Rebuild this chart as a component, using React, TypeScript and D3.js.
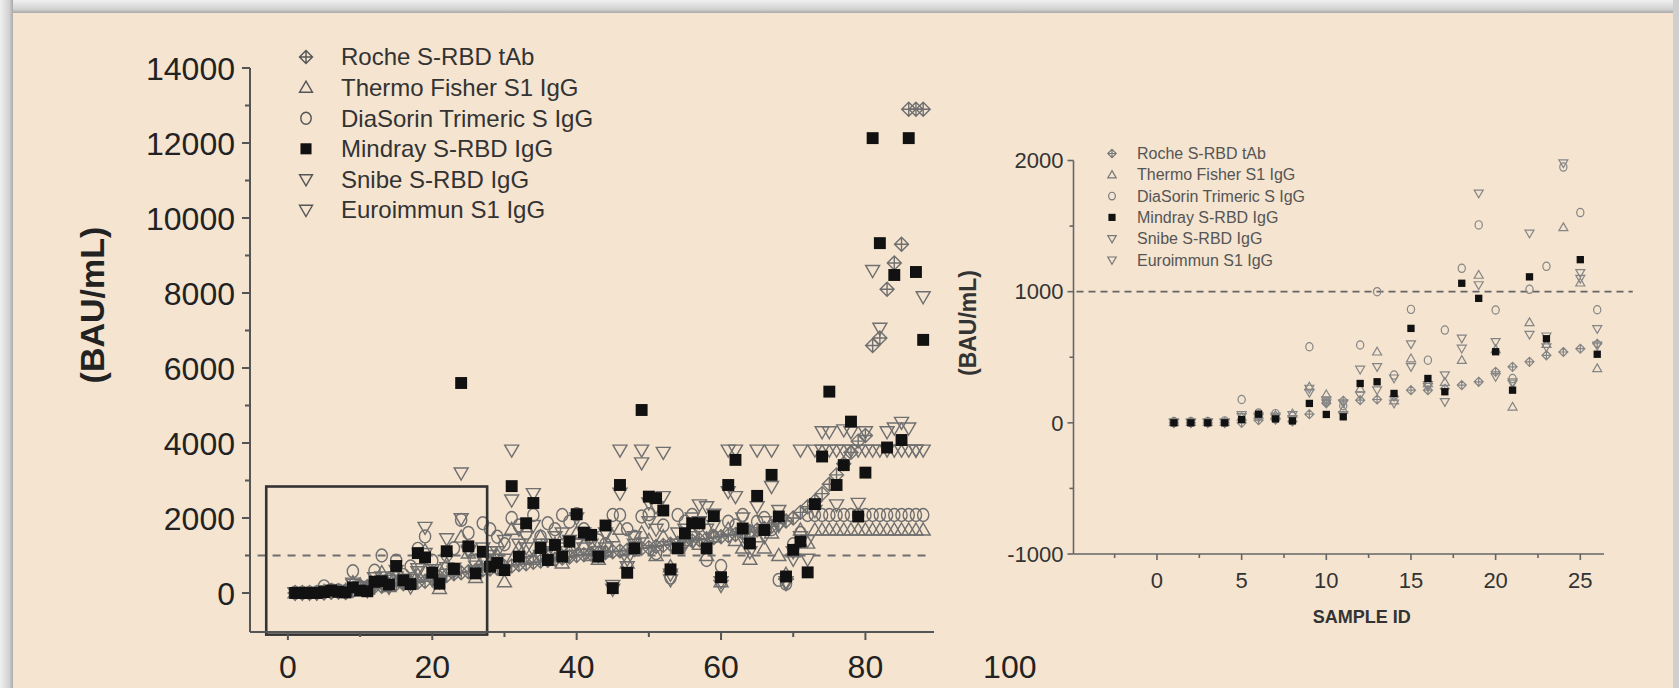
import React from 'react'
import * as d3 from 'd3'

// sample ids 1..88 (left panel), 1..26 (right panel zoom)
const samples = d3.range(1, 89)
const zoomSamples = d3.range(1, 27)

const seriesNames = [
  'Roche S-RBD tAb',
  'Thermo Fisher S1  IgG',
  'DiaSorin Trimeric S IgG',
  'Mindray S-RBD IgG',
  'Snibe S-RBD IgG',
  'Euroimmun S1 IgG',
]
const seriesShapes = ['diamond', 'triUp', 'circle', 'square', 'triDown', 'triDown']

const roche = [
  0, 0, 0, 0, 0, 20, 25, 10, 66, 150,
  168, 173, 178, 200, 249, 249, 260, 288, 313, 389,
  427, 465, 515, 540, 565, 603, 620, 640, 660, 700,
  720, 760, 780, 820, 850, 870, 900, 930, 960, 1000,
  1020, 1040, 1060, 1080, 1100, 1120, 1140, 1160, 1190, 1210,
  1240, 1270, 1300, 1330, 1360, 1390, 1420, 1450, 1480, 1500,
  1530, 1560, 1600, 1640, 1680, 1720, 1780, 1850, 1920, 2000,
  2150, 2300, 2450, 2650, 2900, 3150, 3450, 3750, 4050, 4200,
  6600, 6800, 8100, 8800, 9300, 12900, 12900, 12900,
]
const thermo = [
  5, 5, 5, 5, 45, 60, 58, 70, 275, 216,
  100, 260, 542, 170, 490, 300, 310, 478, 1127, 560,
  122, 766, 600, 1490, 1068, 415, 900, 800, 1000, 300,
  1700, 1200, 1100, 900, 1500, 1000, 1300, 800, 1100, 1600,
  1300, 1000, 900, 1100, 1500, 1700, 800, 1200, 1600, 1400,
  1000, 1500, 700, 1200, 1400, 1600, 1300, 1000, 1500, 300,
  1700, 1400, 1200, 900, 1500, 1200, 1600, 1000, 500, 1100,
  1680, 1330, 1680, 1680, 1680, 1680, 1680, 1680, 1680, 1680,
  1680, 1680, 1680, 1680, 1680, 1680, 1680, 1680,
]
const diasorin = [
  10, 10, 10, 15, 178, 75, 70, 50, 580, 160,
  130, 593, 1000, 364, 865, 478, 707, 1178, 1509, 860,
  338, 1018, 1193, 1950, 1603, 862, 1860, 1700, 1500, 1300,
  2000, 1800, 1600, 2080, 1500, 1860, 1700, 2080, 1900, 2100,
  1700, 1500, 1400, 1300, 2080, 2080, 1700, 1500, 2040, 2100,
  1060, 1800, 410, 2080, 1900, 2080, 1800, 880, 1500, 720,
  1900, 1800, 2080, 1600, 1900, 2000, 1700, 350, 250, 1300,
  1600, 2080, 2080, 2080, 2080, 2080, 2080, 2080, 2080, 2080,
  2080, 2080, 2080, 2080, 2080, 2080, 2080, 2080,
]
const mindray = [
  0, 0, 0, 0, 25, 66, 30, 15, 148, 64,
  46, 300, 313, 224, 720, 338, 237, 1064, 949, 542,
  249, 1113, 641, 5600, 1244, 523, 1100, 700, 800, 610,
  2850, 970, 1860, 2400, 1200, 880, 1280, 970, 1370, 2100,
  1610, 1550, 970, 1800, 130, 2880, 540, 1190, 4880, 2570,
  2530, 2200, 630, 1190, 1590, 1860, 1860, 1190, 2050, 420,
  2880, 3550, 1720, 1320, 2590, 1680, 3150, 2040, 440, 1150,
  1370, 550, 2370, 3640, 5370, 2880, 3410, 4570, 2040, 3210,
  12130, 9330, 3880, 8480, 4080, 12130, 8560, 6750,
]
const snibe = [
  5, 5, 5, 5, 60, 50, 50, 60, 262, 173,
  150, 407, 427, 340, 600, 275, 364, 644, 1750, 618,
  310, 1445, 578, 3200, 1143, 716, 1200, 1100, 900, 1400,
  2480, 1700, 1500, 2650, 1300, 1100, 1500, 1200, 1400, 2000,
  1600, 1300, 1100, 1200, 200, 2660, 900, 1300, 3470, 2400,
  2300, 2570, 500, 1300, 1700, 2000, 2350, 2300, 2100, 300,
  2700, 2570, 2000, 1500, 2300, 1900, 2840, 2200, 300, 1100,
  1500, 900, 2200, 4300, 4300, 2350, 4350, 4300, 2390, 4300,
  8600, 7060, 4300, 4400, 4550, 4400, 3810, 7900,
]
const euroimmun = [
  0, 0, 0, 0, 45, 40, 40, 30, 230, 150,
  60, 210, 250, 148, 427, 290, 160, 567, 1051, 351,
  300, 673, 660, 1980, 1100, 590, 900, 1000, 1100, 900,
  3810, 1300, 1200, 1800, 1000, 1300, 1100, 1600, 1000, 1300,
  1200, 1500, 1000, 1600, 100, 3810, 700, 1500, 3810, 1900,
  1700, 3750, 350, 1600, 1300, 1500, 1900, 1700, 1800, 200,
  3810, 3810, 1600, 1100, 3810, 1500, 3810, 1800, 250, 900,
  3810, 1400, 3810, 3810, 3810, 3810, 3810, 3810, 3810, 3810,
  3810, 3810, 3810, 3810, 3810, 3810, 3810, 3810,
]
const seriesValues = [roche, thermo, diasorin, mindray, snibe, euroimmun]
// draw order: open grey markers first, black squares last
const drawOrder = [5, 4, 2, 1, 0, 3]

const cutoff = 1000
const leftYTicks = [0, 2000, 4000, 6000, 8000, 10000, 12000, 14000]
const leftYMinor = [1000, 3000, 5000, 7000, 9000, 11000, 13000]
const leftXTicks = [0, 20, 40, 60, 80]
const leftXMinor = [10, 30, 50, 70]
const leftXExtraLabel = 100
const zoomBoxX = [-3, 27.6]
const zoomBoxY = [-1110, 2840]
const rightYTicks = [-1000, 0, 1000, 2000]
const rightYMinor = [-500, 500, 1500]
const rightXTicks = [0, 5, 10, 15, 20, 25]
const rightXMinor = [-2.5, 2.5, 7.5, 12.5, 17.5, 22.5]

const W = 1679
const H = 688
const FONT = 'Liberation Sans, Arial, Helvetica, sans-serif'
const BG = '#f4e4d0'
const GREY = '#6f6f6f'

function Marker(props) {
  const { shape, x, y, s, grey, sw } = props
  const stroke = grey || GREY
  const w = sw || 1.4
  if (shape === 'square')
    return <rect x={x - s * 0.85} y={y - s * 0.85} width={s * 1.7} height={s * 1.7} fill="#111" />
  if (shape === 'circle')
    return <ellipse cx={x} cy={y} rx={s * 0.8} ry={s * 0.92} fill="none" stroke={stroke} strokeWidth={w} />
  if (shape === 'triUp')
    return <path d={`M${x},${y - s}L${x + s},${y + s * 0.72}L${x - s},${y + s * 0.72}Z`} fill="none" stroke={stroke} strokeWidth={w} />
  if (shape === 'triDown')
    return <path d={`M${x},${y + s}L${x + s},${y - s * 0.72}L${x - s},${y - s * 0.72}Z`} fill="none" stroke={stroke} strokeWidth={w} />
  // roche: diamond with a cross inside
  return (
    <path
      d={`M${x},${y - s}L${x + s},${y}L${x},${y + s}L${x - s},${y}Z M${x - s},${y}L${x + s},${y} M${x},${y - s}L${x},${y + s}`}
      fill="none" stroke={stroke} strokeWidth={w}
    />
  )
}

function LeftPanel() {
  const x = d3.scaleLinear().domain([-5.25, 89.5]).range([250, 934])
  const y = d3.scaleLinear().domain([-1040, 14000]).range([632, 68])
  const x0 = x.range()[0]
  const y0 = y.range()[0]
  return (
    <g>
      {/* dashed cutoff line */}
      <line x1={x(-4.2)} x2={x(88.4)} y1={y(cutoff)} y2={y(cutoff)} stroke="#6e6e6e" strokeWidth={2} strokeDasharray="8 7" />
      {drawOrder.map(si => (
        <g key={si}>
          {samples.map((s, i) => (
            <Marker key={i} shape={seriesShapes[si]} x={x(s)} y={y(seriesValues[si][i])} s={7} />
          ))}
        </g>
      ))}
      {/* zoom box */}
      <rect
        x={x(zoomBoxX[0])} y={y(zoomBoxY[1])}
        width={x(zoomBoxX[1]) - x(zoomBoxX[0])} height={y(zoomBoxY[0]) - y(zoomBoxY[1])}
        fill="none" stroke="#333" strokeWidth={2.6}
      />
      {/* axes */}
      <line x1={x0} x2={x0} y1={y(14000)} y2={y0} stroke="#555" strokeWidth={2} />
      <line x1={x0} x2={x.range()[1]} y1={y0} y2={y0} stroke="#555" strokeWidth={2} />
      {leftYTicks.map(t => (
        <g key={t}>
          <line x1={x0 - 8} x2={x0} y1={y(t)} y2={y(t)} stroke="#555" strokeWidth={2} />
          <text x={x0 - 15} y={y(t)} dy="0.36em" textAnchor="end" fontSize={32} fill="#222" fontFamily={FONT}>{t}</text>
        </g>
      ))}
      {leftYMinor.map(t => (
        <line key={t} x1={x0 - 5} x2={x0} y1={y(t)} y2={y(t)} stroke="#555" strokeWidth={2} />
      ))}
      {leftXTicks.map(t => (
        <g key={t}>
          <line x1={x(t)} x2={x(t)} y1={y0} y2={y0 + 8} stroke="#555" strokeWidth={2} />
          <text x={x(t)} y={y0 + 34} dy="0.36em" textAnchor="middle" fontSize={32} fill="#222" fontFamily={FONT}>{t}</text>
        </g>
      ))}
      {leftXMinor.map(t => (
        <line key={t} x1={x(t)} x2={x(t)} y1={y0} y2={y0 + 5} stroke="#555" strokeWidth={2} />
      ))}
      <text x={x(leftXExtraLabel)} y={y0 + 34} dy="0.36em" textAnchor="middle" fontSize={32} fill="#222" fontFamily={FONT}>{leftXExtraLabel}</text>
      <text transform="translate(92,305) rotate(-90)" textAnchor="middle" dy="0.35em" fontSize={34} fontWeight="bold" fill="#222" fontFamily={FONT}>(BAU/mL)</text>
      {/* legend */}
      {seriesNames.map((n, i) => {
        const ly = 57 + i * 30.6
        return (
          <g key={n}>
            <Marker shape={seriesShapes[i]} x={306} y={ly} s={6.5} grey="#555" />
            <text x={341} y={ly} dy="0.35em" fontSize={24} fill="#333" fontFamily={FONT}>{n}</text>
          </g>
        )
      })}
    </g>
  )
}

function RightPanel() {
  const x = d3.scaleLinear().domain([-4.93, 26.4]).range([1073.5, 1604])
  const y = d3.scaleLinear().domain([-1000, 2000]).range([554, 160.5])
  const x0 = x.range()[0]
  const y0 = y.range()[0]
  const yMax = y.domain()[1] + 60
  return (
    <g>
      <line x1={x0 + 3} x2={x(28.1)} y1={y(cutoff)} y2={y(cutoff)} stroke="#666" strokeWidth={1.6} strokeDasharray="7 5" />
      {drawOrder.map(si => (
        <g key={si}>
          {zoomSamples.map((s, i) => {
            const v = seriesValues[si][i]
            if (v > yMax) return null
            return <Marker key={i} shape={seriesShapes[si]} x={x(s)} y={y(v)} s={si === 3 ? 4.3 : 4.5} grey="#858585" sw={1.2} />
          })}
        </g>
      ))}
      <line x1={x0} x2={x0} y1={y(2000)} y2={y0} stroke="#666" strokeWidth={1.6} />
      <line x1={x0} x2={x.range()[1]} y1={y0} y2={y0} stroke="#666" strokeWidth={1.6} />
      {rightYTicks.map(t => (
        <g key={t}>
          <line x1={x0 - 6} x2={x0} y1={y(t)} y2={y(t)} stroke="#666" strokeWidth={1.6} />
          <text x={x0 - 10} y={y(t)} dy="0.35em" textAnchor="end" fontSize={22} fill="#333" fontFamily={FONT}>{t}</text>
        </g>
      ))}
      {rightYMinor.map(t => (
        <line key={t} x1={x0 - 4} x2={x0} y1={y(t)} y2={y(t)} stroke="#666" strokeWidth={1.6} />
      ))}
      {rightXTicks.map(t => (
        <g key={t}>
          <line x1={x(t)} x2={x(t)} y1={y0} y2={y0 + 6} stroke="#666" strokeWidth={1.6} />
          <text x={x(t)} y={y0 + 26} dy="0.35em" textAnchor="middle" fontSize={22} fill="#333" fontFamily={FONT}>{t}</text>
        </g>
      ))}
      {rightXMinor.map(t => (
        <line key={t} x1={x(t)} x2={x(t)} y1={y0} y2={y0 + 4} stroke="#666" strokeWidth={1.6} />
      ))}
      <text x={x(12.1)} y={617} dy="0.35em" textAnchor="middle" fontSize={18} fontWeight="bold" fill="#333" fontFamily={FONT}>SAMPLE ID</text>
      <text transform="translate(968,323) rotate(-90)" textAnchor="middle" dy="0.35em" fontSize={23} fontWeight="bold" fill="#333" fontFamily={FONT}>(BAU/mL)</text>
      {seriesNames.map((n, i) => {
        const ly = 153.5 + i * 21.3
        return (
          <g key={n}>
            <Marker shape={seriesShapes[i]} x={1112} y={ly} s={4.2} grey="#777" sw={1.2} />
            <text x={1137} y={ly} dy="0.35em" fontSize={16} fill="#555" fontFamily={FONT}>{n}</text>
          </g>
        )
      })}
    </g>
  )
}

export default function App() {
  return (
    <div style={{ position: 'absolute', left: 0, top: 0 }}>
      <svg width={W} height={H} style={{ display: 'block' }}>
        <defs>
          <linearGradient id="topEdge" x1="0" y1="0" x2="0" y2="1">
            <stop offset="0" stopColor="#f0f0f0" />
            <stop offset="0.7" stopColor="#d2d2d2" />
            <stop offset="1" stopColor="#a9a9a9" />
          </linearGradient>
          <linearGradient id="leftEdge" x1="0" y1="0" x2="1" y2="0">
            <stop offset="0" stopColor="#f0f0f0" />
            <stop offset="0.7" stopColor="#d2d2d2" />
            <stop offset="1" stopColor="#a9a9a9" />
          </linearGradient>
        </defs>
        <rect x={0} y={0} width={W} height={H} fill={BG} />
        <rect x={0} y={0} width={W} height={13} fill="url(#topEdge)" />
        <rect x={0} y={0} width={13} height={H} fill="url(#leftEdge)" />
        <rect x={W - 6} y={0} width={6} height={H} fill="#cfcfcf" />
        <LeftPanel />
        <RightPanel />
      </svg>
    </div>
  )
}
